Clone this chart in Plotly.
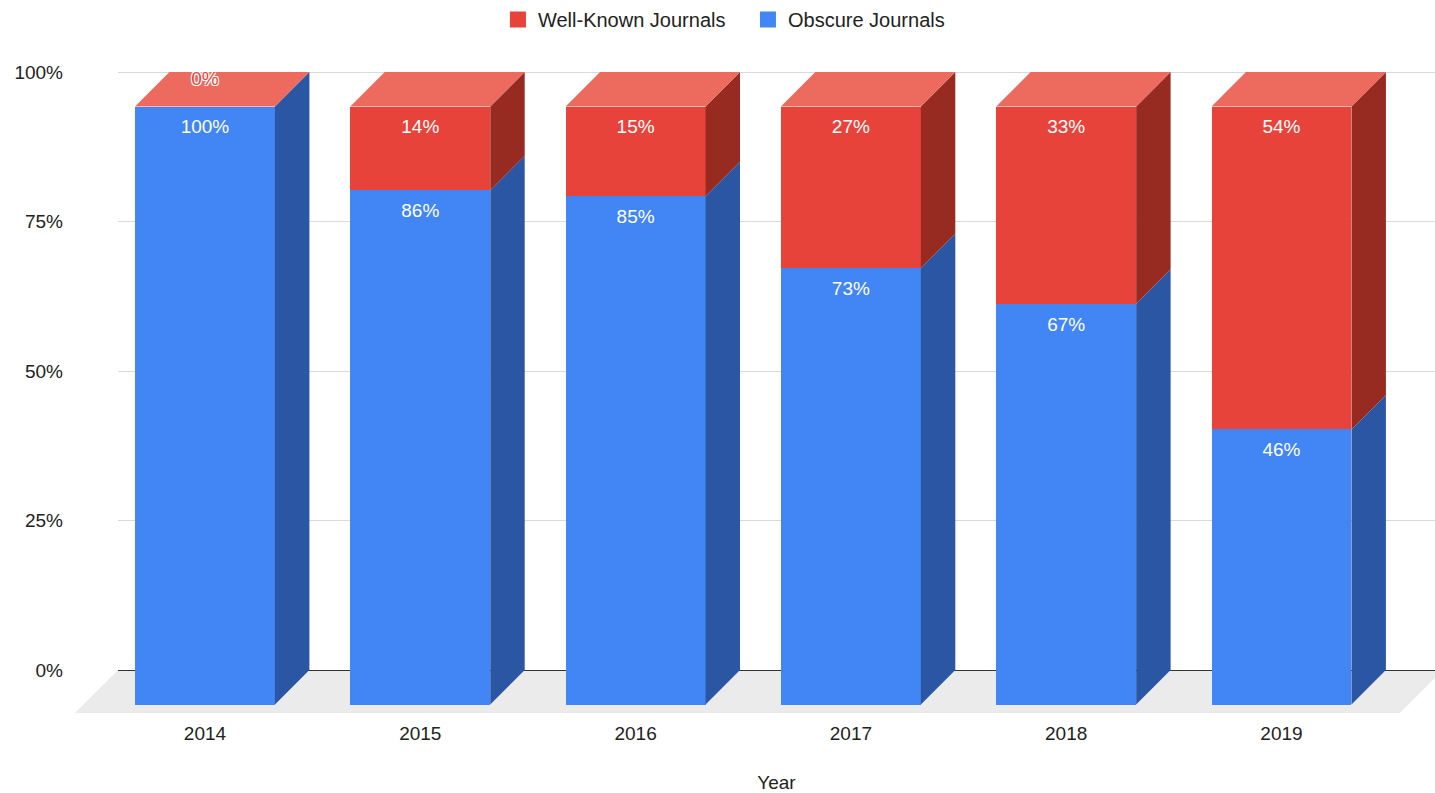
import plotly.graph_objects as go

# ---- data ----
years = ["2014", "2015", "2016", "2017", "2018", "2019"]
well_known = [0, 14, 15, 27, 33, 54]     # % Well-Known Journals
obscure = [100, 86, 85, 73, 67, 46]      # % Obscure Journals
y_ticks = [0, 25, 50, 75, 100]

# ---- style / geometry ----
FONT = "Liberation Sans, Arial, sans-serif"
BLUE_FRONT, BLUE_SIDE = "#4285f4", "#2a56a3"
RED_FRONT, RED_SIDE, RED_TOP = "#e8433a", "#982b21", "#ec6a5e"
XR = [-0.404, 5.713]
YR = [-0.0836, 1.0201]
W = 0.65          # bar front width (x units)
DX = 0.160        # depth in x units
DY = 0.0577       # depth in y units
FDX, FDY = 0.200, 0.0719   # floor depth
LBL_OFF = 0.0368
ZERO_OFF = 0.0445

xs_pos = list(range(len(years)))
stack = [("Obscure Journals", obscure, BLUE_FRONT, BLUE_SIDE),
         ("Well-Known Journals", well_known, RED_FRONT, RED_SIDE)]

fig = go.Figure()

cum = [0.0] * len(years)
lbl_x, lbl_y, lbl_t = [], [], []
zlbl_x, zlbl_y, zlbl_t = [], [], []
for name, vals, front, side in stack:
    bases = [c / 100 - DY for c in cum]
    fig.add_trace(go.Bar(x=xs_pos, y=[v / 100 for v in vals], base=bases, width=W,
                         marker=dict(color=front, line=dict(width=0)),
                         showlegend=False, hoverinfo="skip"))
    sx, sy = [], []
    for i, v in enumerate(vals):
        b = cum[i] / 100
        t = (cum[i] + v) / 100
        xr = xs_pos[i] + W / 2
        sx += [xr, xr + DX, xr + DX, xr, xr, None]
        sy += [b - DY, b, t, t - DY, b - DY, None]
        if v > 0:
            lbl_x.append(xs_pos[i]); lbl_y.append(t - DY - LBL_OFF); lbl_t.append(f"{v}%")
        else:
            zlbl_x.append(xs_pos[i]); zlbl_y.append(t - DY + ZERO_OFF); zlbl_t.append(f"{v}%")
    fig.add_trace(go.Scatter(x=sx, y=sy, mode="lines", fill="toself", fillcolor=side,
                             line=dict(width=0, color=side), showlegend=False, hoverinfo="skip"))
    cum = [c + v for c, v in zip(cum, vals)]

# top faces (colored by the top series)
tx, ty = [], []
for i, c in enumerate(cum):
    t = c / 100
    xl, xr = xs_pos[i] - W / 2, xs_pos[i] + W / 2
    tx += [xl, xl + DX, xr + DX, xr, xl, None]
    ty += [t - DY, t, t, t - DY, t - DY, None]
fig.add_trace(go.Scatter(x=tx, y=ty, mode="lines", fill="toself", fillcolor=RED_TOP,
                         line=dict(width=0, color=RED_TOP), showlegend=False, hoverinfo="skip"))

fig.add_trace(go.Scatter(x=lbl_x, y=lbl_y, text=lbl_t, mode="text", textposition="middle center",
                         textfont=dict(family=FONT, size=19, color="white"),
                         showlegend=False, hoverinfo="skip"))
fig.add_trace(go.Scatter(x=zlbl_x, y=zlbl_y, text=zlbl_t, mode="text", textposition="middle center",
                         textfont=dict(family=FONT, size=19, color=RED_FRONT,
                                       shadow="1px 1px 0 white, -1px -1px 0 white, 1px -1px 0 white, -1px 1px 0 white"),
                         showlegend=False, hoverinfo="skip", cliponaxis=False))

# legend entries
for name, col in [("Well-Known Journals", RED_FRONT), ("Obscure Journals", BLUE_FRONT)]:
    fig.add_trace(go.Scatter(x=[None], y=[None], mode="markers", name=name,
                             marker=dict(symbol="square", size=16, color=col)))

# floor
def px(x):
    return (x - XR[0]) / (XR[1] - XR[0])

def py(y):
    return (y - YR[0]) / (YR[1] - YR[0])

x_back_left = XR[0]
x_front_right = 5.550
pts = [(x_back_left, 0), (x_front_right + FDX, 0), (x_front_right, -FDY), (x_back_left - FDX, -FDY)]
path = "M " + " L ".join(f"{px(a):.5f},{py(b):.5f}" for a, b in pts) + " Z"
fig.add_shape(type="path", path=path, xref="paper", yref="paper",
              fillcolor="#ebebeb", line=dict(width=0), layer="below")

fig.update_layout(
    width=1435, height=793,
    margin=dict(l=118, r=0, t=60, b=73),
    paper_bgcolor="white", plot_bgcolor="white",
    font=dict(family=FONT, size=19, color="#222222"),
    barmode="overlay", bargap=0,
    legend=dict(orientation="h", x=0.2885, xanchor="left", y=1.062, yanchor="middle",
                entrywidth=205, entrywidthmode="pixels",
                font=dict(size=20, color="#222222"), itemclick=False),
    xaxis=dict(range=XR, tickmode="array", tickvals=xs_pos, ticktext=years,
               showgrid=False, zeroline=False, showline=False, ticks="",
               title=dict(text="Year", standoff=33, font=dict(size=19)),
               fixedrange=True),
    yaxis=dict(range=YR, tickmode="array", tickvals=[v / 100 for v in y_ticks],
               ticktext=[f"{v}%" for v in y_ticks],
               showgrid=True, gridcolor="#d9d9d9", gridwidth=1,
               zeroline=True, zerolinecolor="#333333", zerolinewidth=1,
               showline=False, ticks="", ticklabelstandoff=54, fixedrange=True),
)

fig.write_html("out.html", config={"displayModeBar": False},
               post_script="document.body.style.margin='0px'; document.body.style.overflow='hidden';")
